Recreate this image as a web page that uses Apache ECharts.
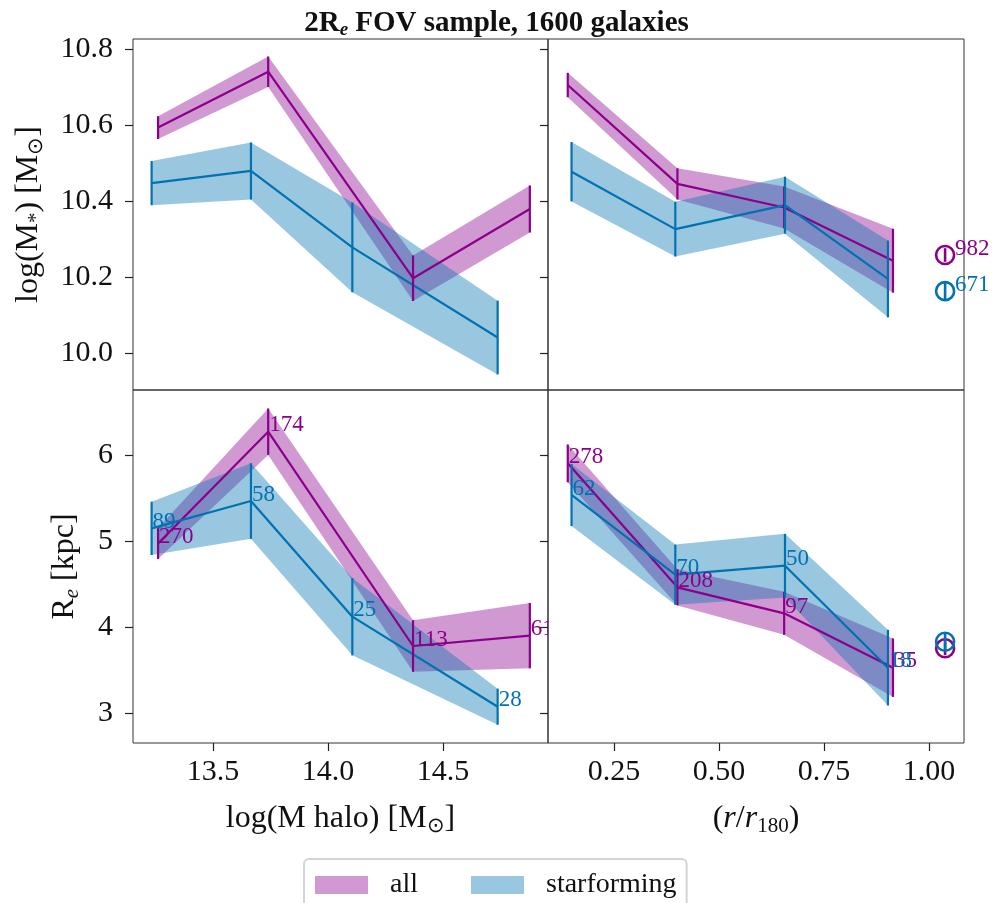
<!DOCTYPE html>
<html>
<head>
<meta charset="utf-8">
<title>2Re FOV sample</title>
<script src="https://cdn.jsdelivr.net/npm/echarts@6/dist/echarts.min.js"></script>
<style>
  html, body { margin: 0; padding: 0; background: #fff; }
  #chart { width: 993px; height: 903px; }
</style>
</head>
<body>
<div id="chart"></div>
<script>
// x positions of the bins
const haloAll = [13.261, 13.740, 14.370, 14.878]
const haloSf = [13.233, 13.665, 14.106, 14.738]
const radAll = [0.140, 0.401, 0.655, 0.914]
const radSf = [0.149, 0.396, 0.657, 0.902]

// log(M*) vs halo mass
const mstarHaloAll = [10.593, 10.740, 10.197, 10.379]
const mstarHaloAllErr = [0.030, 0.040, 0.060, 0.062]
const mstarHaloSf = [10.447, 10.479, 10.278, 10.041]
const mstarHaloSfErr = [0.058, 0.075, 0.118, 0.097]

// log(M*) vs radius
const mstarRadAll = [10.705, 10.445, 10.383, 10.243]
const mstarRadAllErr = [0.032, 0.041, 0.055, 0.084]
const mstarRadSf = [10.477, 10.326, 10.389, 10.195]
const mstarRadSfErr = [0.078, 0.072, 0.075, 0.101]

// Re vs halo mass
const reHaloAll = [4.97, 6.271, 3.779, 3.899]
const reHaloAllErr = [0.18, 0.27, 0.30, 0.38]
const reHaloSf = [5.147, 5.465, 4.120, 3.073]
const reHaloSfErr = [0.31, 0.44, 0.45, 0.21]

// Re vs radius
const reRadAll = [5.903, 4.461, 4.159, 3.527]
const reRadAllErr = [0.22, 0.21, 0.25, 0.34]
const reRadSf = [5.535, 4.608, 4.713, 3.527]
const reRadSfErr = [0.36, 0.35, 0.37, 0.44]

// galaxy counts per bin
const nHaloAll = [270, 174, 113, 61]
const nHaloSf = [89, 58, 25, 28]
const nRadAll = [278, 208, 97, 35]
const nRadSf = [62, 70, 50, 18]

// field points (circles, right column)
const fieldX = 1.038
const fieldMstar = { all: [10.258, 0.018, 982], sf: [10.163, 0.022, 671] }
const fieldRe = { all: [3.752, 0.08], sf: [3.829, 0.11] }

// tick labels
const haloTicks = [13.5, 14.0, 14.5]
const radTicks = [0.25, 0.50, 0.75, 1.00]
const mstarTicks = [10.0, 10.2, 10.4, 10.6, 10.8]
const reTicks = [3, 4, 5, 6]

const PURPLE = '#8b008b'
const BLUE = '#0072b2'
const PURPLE_FILL = 'rgba(139,0,139,0.4)'
const BLUE_FILL = 'rgba(0,114,178,0.4)'
const FONT = 'Liberation Serif'

const rich = {
  t: { fontSize: 32, fontFamily: FONT, color: '#111', lineHeight: 36 },
  i: { fontSize: 32, fontFamily: FONT, color: '#111', fontStyle: 'italic', lineHeight: 36 },
  s: { fontSize: 21, fontFamily: FONT, color: '#111', lineHeight: 22, verticalAlign: 'bottom' },
  si: { fontSize: 21, fontFamily: FONT, color: '#111', lineHeight: 22, verticalAlign: 'bottom', fontStyle: 'italic' }
}

function band(name, xs, ys, errs, fill, gridIdx) {
  return {
    name: name,
    type: 'custom',
    xAxisIndex: gridIdx,
    yAxisIndex: gridIdx,
    z: 1,
    silent: true,
    itemStyle: { color: fill },
    data: xs.map((x, i) => [x, ys[i]]),
    renderItem: function (params, api) {
      if (params.dataIndex !== 0) return null
      let pts = []
      for (let i = 0; i < xs.length; i++) pts.push(api.coord([xs[i], ys[i] + errs[i]]))
      for (let i = xs.length - 1; i >= 0; i--) pts.push(api.coord([xs[i], ys[i] - errs[i]]))
      return { type: 'polygon', shape: { points: pts }, style: { fill: fill } }
    }
  }
}

function meanLine(xs, ys, color, gridIdx) {
  return {
    type: 'line',
    xAxisIndex: gridIdx,
    yAxisIndex: gridIdx,
    z: 3,
    silent: true,
    symbol: 'none',
    lineStyle: { color: color, width: 2.2 },
    data: xs.map((x, i) => [x, ys[i]])
  }
}

// vertical error bars, optionally with a count printed next to the point
function errBars(xs, ys, errs, counts, color, gridIdx) {
  return {
    type: 'custom',
    xAxisIndex: gridIdx,
    yAxisIndex: gridIdx,
    z: 4,
    silent: true,
    // left panels get clipped by the right-hand panel, like the original
    clip: gridIdx === 0 || gridIdx === 2,
    data: xs.map((x, i) => [x, ys[i], errs[i], counts ? counts[i] : null]),
    renderItem: function (params, api) {
      const x = api.value(0), y = api.value(1), e = api.value(2)
      const a = api.coord([x, y - e])
      const b = api.coord([x, y + e])
      const p = api.coord([x, y])
      const kids = [{
        type: 'line',
        shape: { x1: a[0], y1: a[1], x2: b[0], y2: b[1] },
        style: { stroke: color, lineWidth: 2.2 }
      }]
      if (counts) {
        kids.push({
          type: 'text',
          style: {
            x: p[0] + 1, y: p[1] + 5, text: String(api.value(3)),
            fill: color, font: '23px "' + FONT + '"',
            textAlign: 'left', textVerticalAlign: 'bottom'
          }
        })
      }
      return { type: 'group', children: kids }
    }
  }
}

// hollow circle with a short error bar inside (field sample)
function fieldPoint(val, color, gridIdx) {
  return {
    type: 'custom',
    xAxisIndex: gridIdx,
    yAxisIndex: gridIdx,
    z: 5,
    silent: true,
    clip: false,
    data: [[fieldX, val[0], val[1], val[2] || null]],
    renderItem: function (params, api) {
      const x = api.value(0), y = api.value(1), e = api.value(2)
      const p = api.coord([x, y])
      const a = api.coord([x, y - e])
      const b = api.coord([x, y + e])
      const kids = [
        { type: 'circle', shape: { cx: p[0], cy: p[1], r: 9 }, style: { fill: 'none', stroke: color, lineWidth: 2.6 } },
        { type: 'line', shape: { x1: a[0], y1: a[1], x2: b[0], y2: b[1] }, style: { stroke: color, lineWidth: 2.6 } }
      ]
      if (val[2]) {
        kids.push({
          type: 'text',
          style: {
            x: p[0] + 10, y: p[1] + 5, text: String(val[2]),
            fill: color, font: '23px "' + FONT + '"',
            textAlign: 'left', textVerticalAlign: 'bottom'
          }
        })
      }
      return { type: 'group', children: kids }
    }
  }
}

function xAxis(gridIdx, min, max, ticks, digits, name) {
  const show = !!ticks
  return {
    type: 'value',
    gridIndex: gridIdx,
    min: min,
    max: max,
    axisLine: { show: false },
    splitLine: { show: false },
    axisTick: show ? { show: true, length: 8, lineStyle: { color: '#222', width: 1.2 }, customValues: ticks } : { show: false },
    axisLabel: show ? {
      show: true, customValues: ticks, margin: 14,
      fontSize: 30, fontFamily: FONT, color: '#111',
      formatter: v => Number(v).toFixed(digits)
    } : { show: false },
    name: name || '',
    nameLocation: 'middle',
    nameGap: 58,
    nameTextStyle: { rich: rich }
  }
}

function yAxis(gridIdx, min, max, ticks, digits, opts) {
  opts = opts || {}
  return {
    type: 'value',
    gridIndex: gridIdx,
    min: min,
    max: max,
    position: opts.right ? 'right' : 'left',
    axisLine: { show: false },
    splitLine: { show: false },
    axisTick: ticks ? { show: true, inside: !!opts.right, length: 8, lineStyle: { color: '#222', width: 1.2 }, customValues: ticks } : { show: false },
    axisLabel: (ticks && !opts.right) ? {
      show: true, customValues: ticks, margin: 20,
      fontSize: 30, fontFamily: FONT, color: '#111',
      formatter: v => Number(v).toFixed(digits)
    } : { show: false },
    name: opts.name || '',
    nameLocation: 'middle',
    nameRotate: 90,
    nameGap: opts.nameGap || 50,
    nameTextStyle: { rich: rich }
  }
}

const gridBase = { show: true, borderColor: '#333', borderWidth: 1, backgroundColor: 'transparent' }

const chart = echarts.init(document.getElementById('chart'))
chart.setOption({
  animation: false,
  backgroundColor: '#fff',
  title: {
    text: '{b|2R}{s|e}{b| FOV sample, 1600 galaxies}',
    left: 'center',
    top: 3,
    textStyle: {
      rich: {
        b: { fontSize: 29, fontWeight: 'bold', fontFamily: FONT, color: '#111', lineHeight: 32 },
        s: { fontSize: 19, fontStyle: 'italic', fontFamily: FONT, color: '#111', lineHeight: 20, verticalAlign: 'bottom' }
      }
    }
  },
  legend: {
    data: ['all', 'starforming'],
    left: 304,
    top: 859,
    icon: 'rect',
    itemWidth: 53,
    itemHeight: 18,
    itemGap: 53,
    padding: [12, 10, 30, 11],
    borderColor: '#d4d4d4',
    borderWidth: 2,
    borderRadius: 5,
    textStyle: { fontSize: 28, fontFamily: FONT, color: '#111', padding: [0, 0, 0, 17] }
  },
  grid: [
    Object.assign({ left: 133, top: 39, width: 415, height: 351 }, gridBase),
    Object.assign({ left: 548, top: 39, width: 416, height: 351 }, gridBase),
    Object.assign({ left: 133, top: 390, width: 415, height: 353 }, gridBase),
    Object.assign({ left: 548, top: 390, width: 416, height: 353 }, gridBase)
  ],
  xAxis: [
    xAxis(0, 13.152, 14.957, null, 1),
    xAxis(1, 0.093, 1.083, null, 2),
    xAxis(2, 13.152, 14.957, haloTicks, 1, '{t|log(M halo) [M}{s|⊙}{t|]}'),
    xAxis(3, 0.093, 1.083, radTicks, 2, '{t|(}{i|r}{t|/}{i|r}{s|180}{t|)}')
  ],
  yAxis: [
    yAxis(0, 9.903, 10.826, mstarTicks, 1, { name: '{t|log(M}{s|*}{t|) [M}{s|⊙}{t|]}', nameGap: 86 }),
    yAxis(1, 9.903, 10.826, null, 1),
    yAxis(2, 2.651, 6.756, reTicks, 0, { name: '{t|R}{si|e}{t| [kpc]}', nameGap: 50 }),
    yAxis(3, 2.651, 6.756, null, 0),
    // mirrored inward ticks on the right side of the left panels
    yAxis(0, 9.903, 10.826, mstarTicks, 1, { right: true }),
    yAxis(2, 2.651, 6.756, reTicks, 0, { right: true })
  ],
  series: [
    // top left
    band('all', haloAll, mstarHaloAll, mstarHaloAllErr, PURPLE_FILL, 0),
    band('starforming', haloSf, mstarHaloSf, mstarHaloSfErr, BLUE_FILL, 0),
    meanLine(haloAll, mstarHaloAll, PURPLE, 0),
    meanLine(haloSf, mstarHaloSf, BLUE, 0),
    errBars(haloAll, mstarHaloAll, mstarHaloAllErr, null, PURPLE, 0),
    errBars(haloSf, mstarHaloSf, mstarHaloSfErr, null, BLUE, 0),
    // top right
    band('all', radAll, mstarRadAll, mstarRadAllErr, PURPLE_FILL, 1),
    band('starforming', radSf, mstarRadSf, mstarRadSfErr, BLUE_FILL, 1),
    meanLine(radAll, mstarRadAll, PURPLE, 1),
    meanLine(radSf, mstarRadSf, BLUE, 1),
    errBars(radAll, mstarRadAll, mstarRadAllErr, null, PURPLE, 1),
    errBars(radSf, mstarRadSf, mstarRadSfErr, null, BLUE, 1),
    fieldPoint(fieldMstar.all, PURPLE, 1),
    fieldPoint(fieldMstar.sf, BLUE, 1),
    // bottom left
    band('all', haloAll, reHaloAll, reHaloAllErr, PURPLE_FILL, 2),
    band('starforming', haloSf, reHaloSf, reHaloSfErr, BLUE_FILL, 2),
    meanLine(haloAll, reHaloAll, PURPLE, 2),
    meanLine(haloSf, reHaloSf, BLUE, 2),
    errBars(haloAll, reHaloAll, reHaloAllErr, nHaloAll, PURPLE, 2),
    errBars(haloSf, reHaloSf, reHaloSfErr, nHaloSf, BLUE, 2),
    // bottom right
    band('all', radAll, reRadAll, reRadAllErr, PURPLE_FILL, 3),
    band('starforming', radSf, reRadSf, reRadSfErr, BLUE_FILL, 3),
    meanLine(radAll, reRadAll, PURPLE, 3),
    meanLine(radSf, reRadSf, BLUE, 3),
    errBars(radAll, reRadAll, reRadAllErr, nRadAll, PURPLE, 3),
    errBars(radSf, reRadSf, reRadSfErr, nRadSf, BLUE, 3),
    fieldPoint(fieldRe.all, PURPLE, 3),
    fieldPoint(fieldRe.sf, BLUE, 3)
  ]
})
</script>
</body>
</html>
